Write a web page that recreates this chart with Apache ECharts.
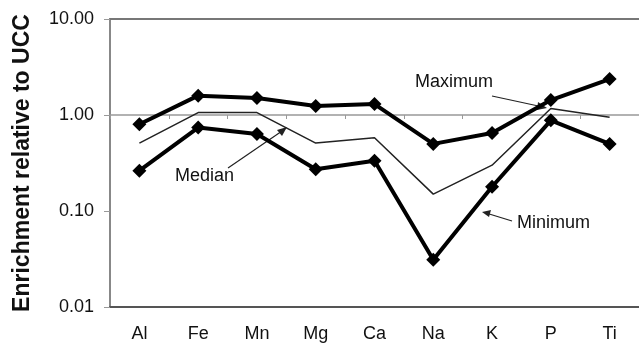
<!DOCTYPE html>
<html><head><meta charset="utf-8">
<script src="https://cdn.jsdelivr.net/npm/echarts@6/dist/echarts.min.js"></script>
<style>html,body{margin:0;padding:0;background:#fff}#c{width:639px;height:343px}</style>
</head><body><div id="c"></div>
<script>
const categories = ['Al','Fe','Mn','Mg','Ca','Na','K','P','Ti'];
const maximum = [0.80, 1.59, 1.50, 1.24, 1.30, 0.50, 0.65, 1.43, 2.37];
const median  = [0.51, 1.06, 1.06, 0.51, 0.58, 0.150, 0.30, 1.17, 0.95];
const minimum = [0.263, 0.74, 0.634, 0.272, 0.334, 0.031, 0.179, 0.88, 0.50];
const yTicks = ['0.01','0.10','1.00','10.00'];

const chart = echarts.init(document.getElementById('c'));
const font = 'Liberation Sans, Arial, sans-serif';
const thick = (name, data) => ({
  name, type:'line', data, symbol:'diamond', symbolSize:14,
  lineStyle:{color:'#000', width:4}, itemStyle:{color:'#000'}, z:5, animation:false
});
chart.setOption({
  animation:false,
  grid:{left:110, top:19, width:540, bottom:36},
  xAxis:[
    {type:'category', data:categories, position:'bottom',
     axisLine:{lineStyle:{color:'#555', width:2}}, axisTick:{show:false},
     axisLabel:{color:'#111', fontSize:18, fontFamily:font, margin:18}},
    {type:'category', data:categories, position:'bottom', offset:-192,
     axisLine:{lineStyle:{color:'#999', width:1.5}},
     axisTick:{show:true, length:4, lineStyle:{color:'#999'}},
     axisLabel:{show:false}},
    {type:'category', data:categories, position:'top',
     axisLine:{lineStyle:{color:'#777', width:2}}, axisTick:{show:false},
     axisLabel:{show:false}}
  ],
  yAxis:{type:'log', logBase:10, min:0.01, max:10,
    name:'Enrichment relative to UCC', nameLocation:'middle', nameGap:76,
    nameTextStyle:{fontSize:23, fontWeight:'bold', color:'#111', fontFamily:font},
    axisLine:{show:true, lineStyle:{color:'#888', width:2}},
    axisTick:{show:true, length:6, lineStyle:{color:'#999'}},
    splitLine:{show:false},
    axisLabel:{color:'#111', fontSize:18, fontFamily:font, margin:16,
      formatter:v=>{const s=Number(v).toFixed(2); return yTicks.includes(s)?s:'';}}
  },
  series:[
    thick('Maximum', maximum),
    {name:'Median', type:'line', data:median, symbol:'none',
     lineStyle:{color:'#222', width:1.5}, z:4},
    thick('Minimum', minimum)
  ],
  graphic:[
    {type:'text', left:175, top:167, style:{text:'Median', font:'18px '+font, fill:'#111'}},
    {type:'line', shape:{x1:228,y1:168,x2:285,y2:129}, style:{stroke:'#222', lineWidth:1.2}},
    {type:'polygon', shape:{points:[[287,127],[277,130],[282,136]]}, style:{fill:'#222'}},
    {type:'text', left:415, top:73, style:{text:'Maximum', font:'18px '+font, fill:'#111'}},
    {type:'line', shape:{x1:492,y1:96,x2:543,y2:107}, style:{stroke:'#222', lineWidth:1.2}},
    {type:'polygon', shape:{points:[[547,108],[538,102],[537,110]]}, style:{fill:'#222'}},
    {type:'text', left:517, top:214, style:{text:'Minimum', font:'18px '+font, fill:'#111'}},
    {type:'line', shape:{x1:512,y1:221,x2:486,y2:213}, style:{stroke:'#222', lineWidth:1.2}},
    {type:'polygon', shape:{points:[[482,212],[491,210],[489,217]]}, style:{fill:'#222'}}
  ]
});
</script></body></html>
